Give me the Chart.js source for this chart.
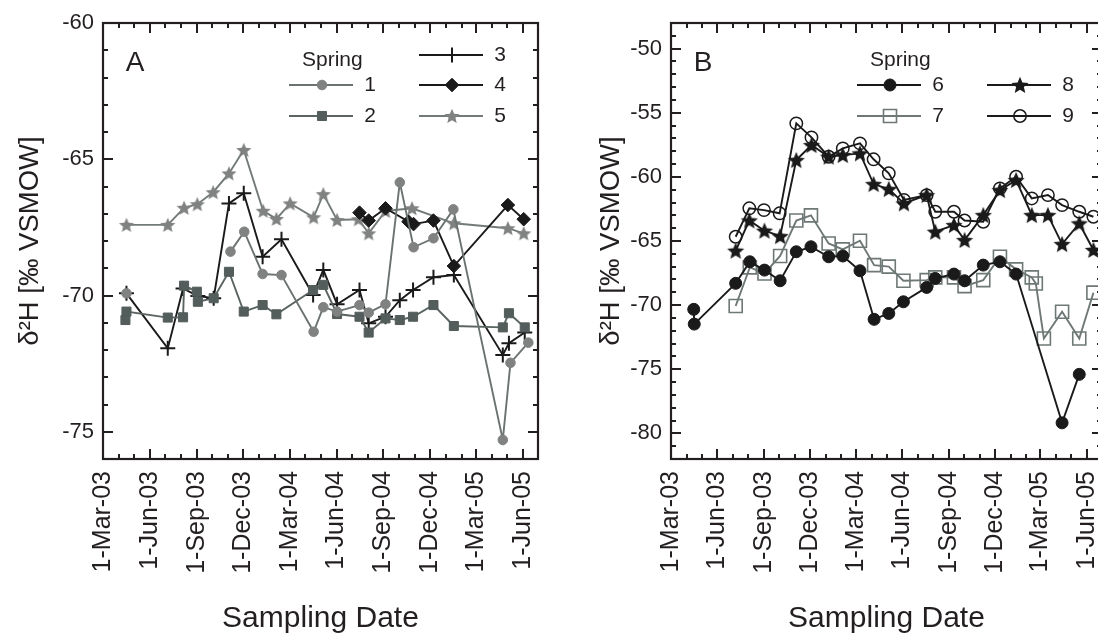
<!DOCTYPE html>
<html>
<head>
<meta charset="utf-8">
<script src="https://cdn.jsdelivr.net/npm/chart.js@4.4.1/dist/chart.umd.min.js"></script>
<style>
  html, body { margin: 0; padding: 0; background: #fff; overflow: hidden; width: 1098px; height: 641px; }
  .panel { position: absolute; top: 0; width: 560px; height: 641px; }
  #panelA { left: 0; }
  #panelB { left: 560px; }
</style>
</head>
<body>
<div class="panel" id="panelA"><canvas id="chartA" width="560" height="641"></canvas></div>
<div class="panel" id="panelB"><canvas id="chartB" width="560" height="641"></canvas></div>
<script>
// ---- panel A: springs 1-5 ----
// null = no connecting line (break in the record)
const s1Dates = ['2003-04-16','2003-08-01','2003-11-06','2003-12-03','2004-01-08','2004-02-14','2004-04-17','2004-05-06','2004-06-02','2004-07-16','2004-08-03','2004-09-05','2004-10-03','2004-10-30','2004-12-08','2005-01-16','2005-04-23','2005-05-08','2005-06-12'];
const s1Vals  = [-69.92,null,-68.39,-67.66,-69.21,-69.25,-71.33,-70.43,-70.59,-70.35,-70.63,-70.32,-65.85,-68.23,-67.9,-66.84,-75.3,-72.47,-71.73];

const s2Dates = ['2003-04-14','2003-04-16','2003-07-06','2003-08-05','2003-08-07','2003-09-01','2003-09-03','2003-10-04','2003-11-03','2003-12-02','2004-01-08','2004-02-04','2004-04-16','2004-05-06','2004-06-02','2004-07-16','2004-08-03','2004-09-05','2004-10-03','2004-10-29','2004-12-08','2005-01-17','2005-04-23','2005-05-05','2005-06-05'];
const s2Vals  = [-70.9,-70.59,-70.81,-70.8,-69.64,-69.86,-70.23,-70.1,-69.13,-70.59,-70.35,-70.69,-69.8,-69.61,-70.68,-70.78,-71.36,-70.84,-70.9,-70.78,-70.35,-71.12,-71.17,-70.65,-71.17];

const s3Dates = ['2003-04-16','2003-07-06','2003-08-05','2003-09-03','2003-10-04','2003-11-03','2003-12-02','2004-01-08','2004-02-14','2004-04-16','2004-05-06','2004-06-02','2004-07-16','2004-08-03','2004-09-05','2004-10-03','2004-10-29','2004-12-08','2005-01-17','2005-04-23','2005-05-05','2005-06-05'];
const s3Vals  = [-69.92,-71.94,-69.74,-70.02,-70.1,-66.62,-66.25,-68.58,-67.94,-69.98,-69.06,-70.32,-69.8,-71.02,-70.78,-70.17,-69.8,-69.33,-69.25,-72.18,-71.75,-71.36];

const s4Dates = ['2004-07-16','2004-08-03','2004-09-05','2004-10-20','2004-10-30','2004-12-08','2005-01-17','2005-05-03','2005-06-03'];
const s4Vals  = [-66.96,-67.25,-66.8,-67.29,-67.38,-67.25,-68.92,-66.68,-67.2];

const s5Dates = ['2003-04-16','2003-07-06','2003-08-07','2003-09-02','2003-10-03','2003-11-03','2003-12-02','2004-01-09','2004-02-04','2004-03-02','2004-04-17','2004-05-06','2004-06-02','2004-07-14','2004-08-03','2004-09-05','2004-10-27','2005-01-17','2005-05-03','2005-06-03'];
const s5Vals  = [-67.41,-67.41,-66.78,-66.65,-66.21,-65.52,-64.66,-66.89,-67.19,-66.62,-67.13,-66.28,-67.23,-67.2,-67.72,-66.9,-66.8,-67.35,-67.53,-67.72];

// ---- panel B: springs 6-9 ----
const s6Dates = ['2003-04-15','2003-04-16','2003-07-07','2003-08-04','2003-09-02','2003-10-03','2003-11-04','2003-12-03','2004-01-07','2004-02-04','2004-03-09','2004-04-06','2004-05-05','2004-06-03','2004-07-19','2004-08-05','2004-09-11','2004-10-02','2004-11-08','2004-12-11','2005-01-12','2005-04-13','2005-05-17'];
const s6Vals  = [-70.33,-71.48,-68.3,-66.62,-67.27,-68.1,-65.84,-65.45,-66.23,-66.17,-67.32,-71.11,-70.65,-69.74,-68.62,-67.92,-67.58,-68.1,-66.88,-66.62,-67.58,-79.18,-75.4];

const s7Dates = ['2003-07-07','2003-08-04','2003-09-02','2003-10-03','2003-11-04','2003-12-03','2004-01-07','2004-02-04','2004-03-09','2004-04-06','2004-05-05','2004-06-03','2004-07-19','2004-08-05','2004-09-11','2004-10-02','2004-11-08','2004-12-11','2005-01-12','2005-02-12','2005-02-20','2005-03-08','2005-04-13','2005-05-17','2005-06-14'];
const s7Vals  = [-70.07,-67.06,-67.53,-66.17,-63.4,-63.0,-65.19,-65.65,-64.98,-66.88,-67.0,-68.1,-68.05,-67.84,-67.84,-68.52,-68.05,-66.23,-67.21,-67.84,-68.31,-72.6,-70.52,-72.6,-69.03];

const s8Dates = ['2003-07-07','2003-08-03','2003-09-02','2003-10-03','2003-11-04','2003-12-04','2004-01-07','2004-02-04','2004-03-09','2004-04-05','2004-05-05','2004-06-04','2004-07-19','2004-08-05','2004-09-11','2004-10-02','2004-11-08','2004-12-11','2005-01-12','2005-02-12','2005-03-16','2005-04-13','2005-05-17','2005-06-14'];
const s8Vals  = [-65.76,-63.4,-64.2,-64.62,-58.69,-57.52,-58.43,-58.3,-58.17,-60.56,-60.95,-62.07,-61.42,-64.28,-63.76,-64.93,-62.98,-61.03,-60.25,-62.98,-62.98,-65.24,-63.63,-65.7];

const s9Dates = ['2003-07-07','2003-08-03','2003-09-01','2003-10-02','2003-11-04','2003-12-04','2004-01-07','2004-02-04','2004-03-09','2004-04-05','2004-05-05','2004-06-04','2004-07-19','2004-08-05','2004-09-11','2004-10-02','2004-11-08','2004-12-11','2005-01-12','2005-02-12','2005-03-16','2005-04-13','2005-05-17','2005-06-14'];
const s9Vals  = [-64.67,-62.45,-62.59,-62.84,-55.83,-56.92,-58.43,-57.78,-57.39,-58.63,-59.72,-61.8,-61.42,-62.72,-62.72,-63.4,-63.5,-60.9,-59.99,-61.68,-61.42,-62.2,-62.72,-63.11];

const monthNames = ['Jan','Feb','Mar','Apr','May','Jun','Jul','Aug','Sep','Oct','Nov','Dec'];
const xStart = '2003-03-01', xEnd = '2005-07-01';
const yRangeA = [-76, -60];
const yRangeB = [-82, -48];

const FONT = '"Liberation Sans", Arial, Helvetica, sans-serif';
const TEXT = '#231f20';

const toX = d => Date.UTC(+d.slice(0, 4), +d.slice(5, 7) - 1, +d.slice(8, 10));
const pts = (dates, vals) => dates.map((d, i) => ({ x: toX(d), y: vals[i] }));

// first-of-month ticks for the date axis
const monthTicks = [];
for (let y = 2003, m = 2; Date.UTC(y, m, 1) <= toX(xEnd); m++) {
  if (m > 11) { m = 0; y++; }
  monthTicks.push(Date.UTC(y, m, 1));
}

function starImage(r, color) {
  const c = document.createElement('canvas');
  const s = Math.ceil(2 * r + 4);
  c.width = s; c.height = s;
  const g = c.getContext('2d');
  g.translate(s / 2, s / 2 + r * 0.08);
  g.beginPath();
  for (let i = 0; i < 10; i++) {
    const rr = i % 2 ? r * 0.45 : r;
    const a = -Math.PI / 2 + i * Math.PI / 5;
    g.lineTo(rr * Math.cos(a), rr * Math.sin(a));
  }
  g.closePath();
  g.fillStyle = color;
  g.fill();
  return c;
}

function series(dates, vals, line, style, radius, fill, border, bw) {
  return {
    data: pts(dates, vals),
    borderColor: line,
    borderWidth: 1.9,
    pointStyle: style,
    pointRadius: radius,
    pointBackgroundColor: fill,
    pointBorderColor: border,
    pointBorderWidth: bw,
    tension: 0,
    fill: false,
    spanGaps: false
  };
}

// inward ticks on all four sides plus the frame
const frameTicks = {
  id: 'frameTicks',
  afterDraw(chart) {
    const { ctx, chartArea: a, scales: { x, y } } = chart;
    ctx.save();
    ctx.strokeStyle = TEXT;
    ctx.lineWidth = 2;
    const seg = (x1, y1, x2, y2) => { ctx.beginPath(); ctx.moveTo(x1, y1); ctx.lineTo(x2, y2); ctx.stroke(); };
    x.ticks.forEach(t => {
      const px = Math.round(x.getPixelForValue(t.value));
      const len = t.label ? 10 : 5;
      seg(px, a.bottom, px, a.bottom - len);
      seg(px, a.top, px, a.top + len);
    });
    y.ticks.forEach(t => {
      const py = Math.round(y.getPixelForValue(t.value));
      const len = t.label ? 10 : 5;
      seg(a.left, py, a.left + len, py);
      seg(a.right, py, a.right - len, py);
    });
    ctx.lineWidth = 2.2;
    ctx.strokeRect(a.left, a.top, a.right - a.left, a.bottom - a.top);
    ctx.restore();
  }
};

function springLegend(letter, entries) {
  return {
    id: 'springLegend',
    afterDatasetsDraw(chart) {
      const { ctx, chartArea: a } = chart;
      ctx.save();
      ctx.fillStyle = TEXT;
      ctx.textBaseline = 'middle';
      ctx.font = '28px ' + FONT;
      ctx.textAlign = 'center';
      ctx.fillText(letter, a.left + 32, a.top + 40);
      ctx.font = '21px ' + FONT;
      ctx.textAlign = 'left';
      ctx.fillText('Spring', a.left + 199, a.top + 37);
      entries.forEach(e => {
        const ds = chart.data.datasets[e.i];
        const x0 = a.left + (e.col ? 316 : 186);
        const y = a.top + e.dy;
        ctx.strokeStyle = ds.borderColor;
        ctx.lineWidth = ds.borderWidth;
        ctx.beginPath(); ctx.moveTo(x0, y); ctx.lineTo(x0 + 64, y); ctx.stroke();
        ctx.fillStyle = ds.pointBackgroundColor;
        ctx.strokeStyle = ds.pointBorderColor;
        ctx.lineWidth = ds.pointBorderWidth;
        Chart.helpers.drawPoint(ctx, { pointStyle: ds.pointStyle, radius: ds.pointRadius, rotation: 0, borderWidth: ds.pointBorderWidth }, x0 + 33, y);
        ctx.fillStyle = TEXT;
        ctx.textAlign = 'center';
        ctx.fillText(e.label, x0 + 81, y);
      });
      ctx.restore();
    }
  };
}

function makeChart(id, datasets, yRange, yWidth, yTitlePad, padRight, plugins) {
  return new Chart(document.getElementById(id), {
    type: 'line',
    data: { datasets },
    options: {
      responsive: false,
      animation: false,
      events: [],
      layout: { padding: { left: 0, top: 23, right: padRight, bottom: 0 } },
      plugins: { legend: { display: false }, tooltip: { enabled: false } },
      scales: {
        x: {
          type: 'linear',
          min: toX(xStart),
          max: toX(xEnd),
          afterBuildTicks: s => { s.ticks = monthTicks.map(v => ({ value: v })); },
          afterFit: s => { s.height = 182; s.paddingLeft = 0; s.paddingRight = 0; },
          grid: { display: false, drawTicks: false },
          border: { display: false },
          ticks: {
            autoSkip: false,
            minRotation: 90,
            maxRotation: 90,
            padding: 12,
            color: TEXT,
            font: { family: FONT, size: 25 },
            callback: v => {
              const d = new Date(v);
              const m = d.getUTCMonth();
              return m % 3 === 2 ? '1-' + monthNames[m] + '-' + String(d.getUTCFullYear()).slice(2) : '';
            }
          },
          title: { display: true, text: 'Sampling Date', color: TEXT, font: { family: FONT, size: 30 }, padding: { top: 0, bottom: 4 } }
        },
        y: {
          min: yRange[0],
          max: yRange[1],
          afterFit: s => { s.width = yWidth; s.paddingTop = 0; s.paddingBottom = 0; },
          grid: { display: false, drawTicks: false },
          border: { display: false },
          ticks: {
            stepSize: 1,
            autoSkip: false,
            padding: 9,
            color: TEXT,
            font: { family: FONT, size: 22 },
            callback: v => (v % 5 === 0 ? String(v) : '')
          },
          title: { display: true, text: 'δ²H [‰ VSMOW]', color: TEXT, font: { family: FONT, size: 27.5 }, padding: { top: yTitlePad, bottom: 0 } }
        }
      }
    },
    plugins: [frameTicks].concat(plugins)
  });
}

const black = '#1a1a1a';
const star5 = starImage(8, '#808282');
const star8 = starImage(9, black);

const dsA = [
  series(s1Dates, s1Vals, '#6b7371', 'circle', 4.8, '#808282', '#808282', 1),
  series(s2Dates, s2Vals, '#5a6462', 'rect', 6.4, '#535d5b', '#535d5b', 1),
  series(s3Dates, s3Vals, black, 'cross', 7.5, black, black, 2),
  series(s4Dates, s4Vals, black, 'rectRot', 6.8, black, black, 1),
  series(s5Dates, s5Vals, '#737b79', star5, 8, '#808282', '#808282', 0)
];
const dsB = [
  series(s6Dates, s6Vals, black, 'circle', 6, black, black, 1),
  series(s7Dates, s7Vals, '#6e7876', 'rect', 9.2, 'rgba(0,0,0,0)', '#6e7876', 1.6),
  series(s8Dates, s8Vals, black, star8, 9, black, black, 0),
  series(s9Dates, s9Vals, black, 'circle', 6.2, 'rgba(0,0,0,0)', black, 1.5)
];

makeChart('chartA', dsA, yRangeA, 103, 14, 22, [springLegend('A', [
  { i: 0, col: 0, dy: 62, label: '1' },
  { i: 1, col: 0, dy: 93, label: '2' },
  { i: 2, col: 1, dy: 32, label: '3' },
  { i: 3, col: 1, dy: 62, label: '4' },
  { i: 4, col: 1, dy: 93, label: '5' }
])]);

makeChart('chartB', dsB, yRangeB, 111, 35, 18, [springLegend('B', [
  { i: 0, col: 0, dy: 62, label: '6' },
  { i: 1, col: 0, dy: 93, label: '7' },
  { i: 2, col: 1, dy: 62, label: '8' },
  { i: 3, col: 1, dy: 93, label: '9' }
])]);
</script>
</body>
</html>
